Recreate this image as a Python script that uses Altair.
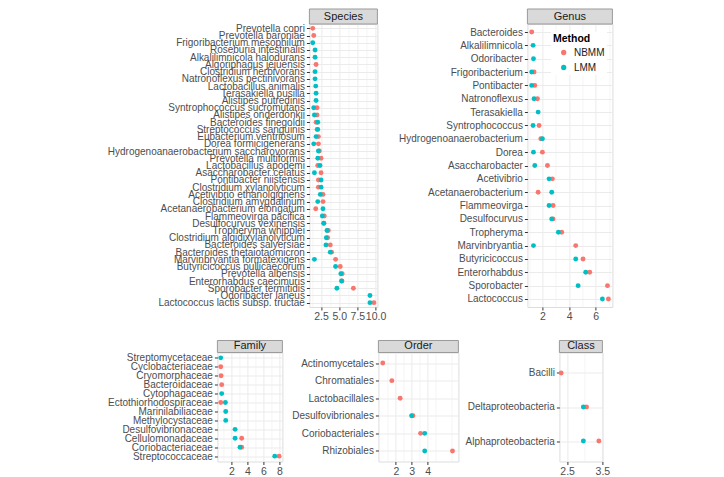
import altair as alt
import pandas as pd

FONT = "Liberation Sans, Arial, sans-serif"

# ---------------- data ----------------
species = [
    "Prevotella copri", "Prevotella baroniae", "Frigoribacterium mesophilum",
    "Roseburia intestinalis", "Alkalilimnicola halodurans", "Algoriphagus jejuensis",
    "Clostridium herbivorans", "Natronoflexus pectinivorans", "Lactobacillus animalis",
    "Terasakiella pusilla", "Alistipes putredinis", "Syntrophococcus sucromutans",
    "Alistipes onderdonkii", "Bacteroides finegoldii", "Streptococcus sanguinis",
    "Eubacterium ventriosum", "Dorea formicigenerans",
    "Hydrogenoanaerobacterium saccharovorans", "Prevotella multiformis",
    "Lactobacillus apodemi", "Asaccharobacter celatus", "Pontibacter niistensis",
    "Clostridium xylanolyticum", "Acetivibrio ethanolgignens", "Clostridium amygdalinum",
    "Acetanaerobacterium elongatum", "Flammeovirga pacifica", "Desulfocurvus vexinensis",
    "Tropheryma whipplei", "Clostridium algidixylanolyticum", "Bacteroides salyersiae",
    "Bacteroides thetaiotaomicron", "Marvinbryantia formatexigens",
    "Butyricicoccus pullicaecorum", "Prevotella albensis", "Enterorhabdus caecimuris",
    "Sporobacter termitidis", "Odoribacter laneus", "Lactococcus lactis subsp. tructae",
]
species_nbmm = [1.36, 1.5, None, None, None, 1.82, None, None, None, None, None, 1.95,
                1.95, 1.82, 1.95, 2.14, 2.14, 2.27, 2.5, 2.05, 2.5, 2.14, 2.14, 2.77,
                2.77, 1.77, 2.95, 2.9, 3.5, 3.41, 3.77, 3.95, 4.5, 5.14, 5.41, 5.38,
                6.95, None, 9.77]
species_lmm = [None, None, 1.36, 1.68, 1.68, None, 1.68, 1.68, 1.77, 1.82, 1.82, 1.5,
               1.59, 2.05, 2.05, 1.82, 1.5, 2.14, 2.05, 2.36, 1.59, 2.5, 2.5, 2.4,
               2.05, 2.77, 2.68, 2.86, 3.32, 3.23, 3.18, 3.77, 1.59, 4.5, 5.23, 5.32,
               4.68, 9.23, 9.23]

genus = [
    "Bacteroides", "Alkalilimnicola", "Odoribacter", "Frigoribacterium", "Pontibacter",
    "Natronoflexus", "Terasakiella", "Syntrophococcus", "Hydrogenoanaerobacterium",
    "Dorea", "Asaccharobacter", "Acetivibrio", "Acetanaerobacterium", "Flammeovirga",
    "Desulfocurvus", "Tropheryma", "Marvinbryantia", "Butyricicoccus", "Enterorhabdus",
    "Sporobacter", "Lactococcus",
]
genus_nbmm = [1.2, None, None, 1.375, 1.43, 1.63, None, 1.75, 1.88, 2.0, 2.38, 2.75,
              1.68, 2.8, 2.8, 3.45, 4.5, 5.05, 5.55, 6.88, 6.95]
genus_lmm = [None, 1.3, 1.33, 1.2, 1.2, 1.375, 1.68, 1.3, 2.0, 1.33, 1.43, 2.5,
             2.7, 2.5, 2.7, 3.2, 1.33, 4.5, 5.25, 4.68, 6.5]

family = [
    "Streptomycetaceae", "Cyclobacteriaceae", "Cryomorphaceae", "Bacteroidaceae",
    "Cytophagaceae", "Ectothiorhodospiraceae", "Marinilabiliaceae", "Methylocystaceae",
    "Desulfovibrionaceae", "Cellulomonadaceae", "Coriobacteriaceae", "Streptococcaceae",
]
family_nbmm = [None, 0.67, 0.71, 0.79, None, 0.67, None, None, None, 3.29, 3.29, 7.96]
family_lmm = [0.67, None, None, None, 0.79, 1.25, 1.29, 1.29, 2.46, 2.46, 3.08, 7.42]

order = ["Actinomycetales", "Chromatiales", "Lactobacillales", "Desulfovibrionales",
         "Coriobacteriales", "Rhizobiales"]
order_nbmm = [1.18, 1.75, 2.27, 3.07, 3.55, 5.55]
order_lmm = [None, None, None, 2.99, 3.81, 3.81]

klass = ["Bacilli", "Deltaproteobacteria", "Alphaproteobacteria"]
klass_nbmm = [2.33, 3.05, 3.40]
klass_lmm = [None, 2.96, 2.96]

methods = ["NBMM", "LMM"]
method_colors = ["#F8766D", "#00BFC4"]

# ---------------- layout constants ----------------
ORIGIN_X = 95.4   # image x of the root origin (left edge of the row spacers)
ORIGIN_Y = 8      # image y of the top strips

color_scale = alt.Scale(domain=methods, range=method_colors)
legend = alt.Legend(
    title="Method", orient="none", legendX=454.6, legendY=8,
    titleFont=FONT, titleFontSize=10.5, titleFontWeight="bold", titleColor="#000000",
    labelFont=FONT, labelFontSize=10, labelColor="#1a1a1a",
    symbolType="circle", symbolSize=28, symbolOffset=5.7, labelOffset=5.3,
    rowPadding=5, titlePadding=3, padding=2, fillColor="white",
)


def panel(title, cats, nbmm, lmm, width, height, domain, major, minor, fmt, strip_h):
    rows = []
    for c, v in zip(cats, nbmm):
        if v is not None:
            rows.append({"cat": c, "Method": "NBMM", "value": v, "ord": 0})
    for c, v in zip(cats, lmm):
        if v is not None:
            rows.append({"cat": c, "Method": "LMM", "value": v, "ord": 1})
    df = pd.DataFrame(rows)

    ticks = sorted(set(major + minor))
    test = " || ".join([f"abs(datum.value - ({m})) < 1e-6" for m in major])
    xaxis = alt.Axis(
        title=None, values=ticks,
        labelExpr=f"({test}) ? format(datum.value, '{fmt}') : ''",
        labelOverlap=False, labelFlush=False,
        tickColor={"condition": {"test": test, "value": "#333333"}, "value": "transparent"},
        gridWidth={"condition": {"test": test, "value": 1}, "value": 0.5},
        gridColor="#ebebeb", domain=False, tickSize=3, labelPadding=2,
        labelFont=FONT, labelFontSize=10.5, labelColor="#4d4d4d",
    )
    yaxis = alt.Axis(
        title=None, grid=True, gridColor="#ebebeb", gridWidth=1, domain=False,
        tickSize=3, tickColor="#333333", labelPadding=2, labelLimit=0,
        labelFont=FONT, labelFontSize=10, labelColor="#4d4d4d",
    )
    pts = alt.Chart(df).mark_circle(size=24, opacity=1).encode(
        x=alt.X("value:Q", scale=alt.Scale(domain=domain, nice=False, zero=False), axis=xaxis),
        y=alt.Y("cat:N", sort=cats, scale=alt.Scale(type="point", padding=0.6), axis=yaxis),
        color=alt.Color("Method:N", scale=color_scale, legend=legend),
        order=alt.Order("ord:Q"),
    )
    sdf = pd.DataFrame({"label": [title]})
    rect = alt.Chart(sdf).mark_rect(fill="#d9d9d9", stroke="#9a9a9a", strokeWidth=1).encode(
        x=alt.value(0), x2=alt.value(width), y=alt.value(-strip_h), y2=alt.value(0)
    )
    txt = alt.Chart(sdf).mark_text(font=FONT, fontSize=11, color="#1a1a1a", baseline="middle").encode(
        x=alt.value(width / 2), y=alt.value(-strip_h / 2), text="label:N"
    )
    return alt.layer(rect, txt, pts).properties(width=width, height=height)


def spacer(w):
    return alt.Chart(pd.DataFrame({"a": [0]})).mark_point(opacity=0, size=1).encode(
        x=alt.value(w / 2), y=alt.value(0.5)
    ).properties(width=w, height=1, view=alt.ViewBackground(stroke="transparent"))


species_chart = panel("Species", species, species_nbmm, species_lmm, 68, 283,
                      [0.9, 10.25], [2.5, 5.0, 7.5, 10.0], [1.25, 3.75, 6.25, 8.75], ".1f", 15)
genus_chart = panel("Genus", genus, genus_nbmm, genus_lmm, 85, 283,
                    [0.875, 7.25], [2, 4, 6], [1, 3, 5, 7], "d", 15)
family_chart = panel("Family", family, family_nbmm, family_lmm, 65, 109,
                     [0.25, 8.375], [2, 4, 6, 8], [1, 3, 5, 7], "d", 12)
order_chart = panel("Order", order, order_nbmm, order_lmm, 80, 109,
                    [0.907, 5.92], [2, 3, 4], [1.5, 2.5, 3.5, 4.5, 5.5], "d", 12)
class_chart = panel("Class", klass, klass_nbmm, klass_lmm, 43, 109,
                    [2.28, 3.5], [2.5, 3.5], [3.0], ".1f", 12)

# Species plot at image x 308, Genus at 527; Family 216.7, Order 378, Class 559
top = alt.hconcat(spacer(211.6), species_chart, spacer(148), genus_chart,
                  spacing=1, bounds="flush")
bottom = alt.hconcat(spacer(120), family_chart, spacer(94), order_chart, spacer(99),
                     class_chart, spacing=1, bounds="flush")

chart = alt.vconcat(top, bottom, spacing=16.5).properties(
    padding={"left": ORIGIN_X, "top": ORIGIN_Y, "right": 5, "bottom": 0}
).configure_view(stroke="#9a9a9a", strokeWidth=1).configure(font=FONT)

chart.save("out.html", embed_options={"renderer": "svg", "actions": False})
